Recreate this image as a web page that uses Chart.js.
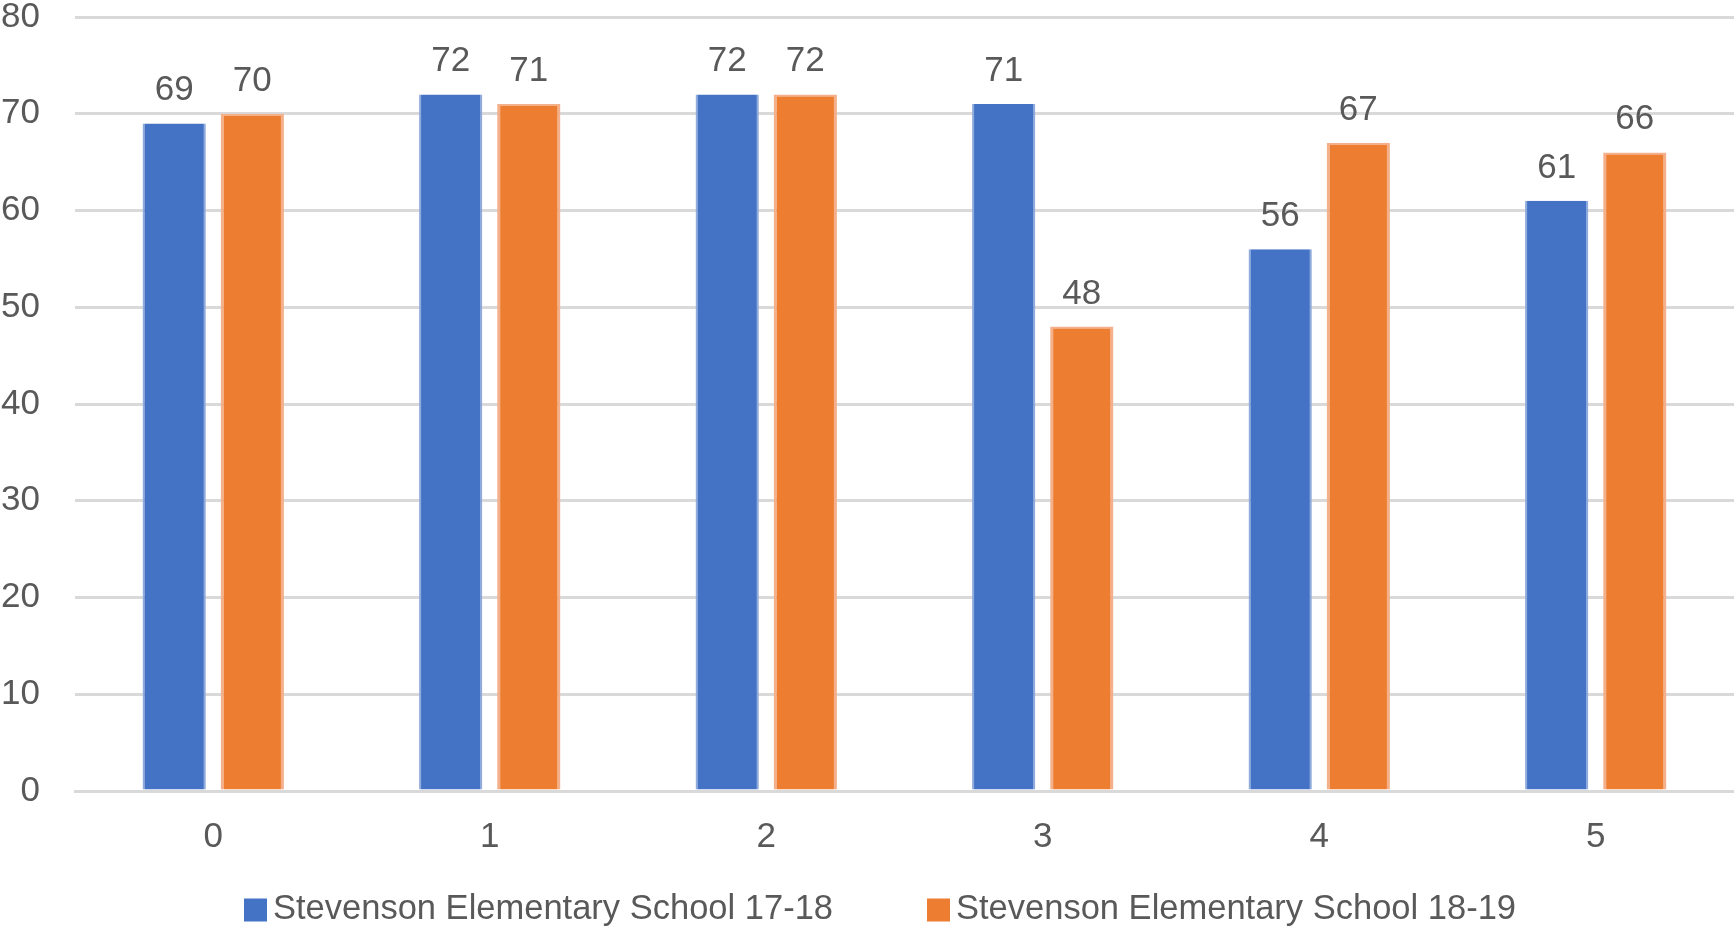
<!DOCTYPE html>
<html>
<head>
<meta charset="utf-8">
<script src="https://cdn.jsdelivr.net/npm/chart.js"></script>
<style>
  *{margin:0;padding:0;box-sizing:border-box}
  html,body{width:1734px;height:926px;background:#fff;overflow:hidden}
  canvas{display:block}
</style>
</head>
<body>
<canvas id="chart" width="1734" height="926"></canvas>
<script>
// data
const categories = ["0", "1", "2", "3", "4", "5"];
const seriesNames = ["Stevenson Elementary School 17-18", "Stevenson Elementary School 18-19"];
const school1718 = [69, 72, 72, 71, 56, 61];
const school1819 = [70, 71, 72, 48, 67, 66];
const yTicks = [0, 10, 20, 30, 40, 50, 60, 70, 80];

const FONT = "'Liberation Sans', Arial, sans-serif";
const FSIZE = 35;
const TEXT = "#595959";
const GRID = "#d9d9d9";

// values drawn above each bar
const valueLabels = {
  id: "valueLabels",
  afterDatasetsDraw(chart) {
    const ctx = chart.ctx;
    ctx.save();
    ctx.font = FSIZE + "px " + FONT;
    ctx.fillStyle = TEXT;
    ctx.textAlign = "center";
    ctx.textBaseline = "alphabetic";
    chart.data.datasets.forEach((ds, di) => {
      chart.getDatasetMeta(di).data.forEach((bar, i) => {
        ctx.fillText(String(ds.data[i]), bar.x, bar.y - 23);
      });
    });
    ctx.restore();
  }
};

// legend at the bottom, wide spacing like the original
const bottomLegend = {
  id: "bottomLegend",
  afterDraw(chart) {
    const ctx = chart.ctx;
    const box = 23, gapText = 6, gapItem = 94;
    ctx.save();
    ctx.font = "34.5px " + FONT;
    ctx.textBaseline = "middle";
    ctx.textAlign = "left";
    const items = chart.data.datasets.map(ds => ({ label: ds.label, color: ds.backgroundColor, w: ctx.measureText(ds.label).width }));
    const total = items.reduce((s, it) => s + box + gapText + it.w, 0) + gapItem * (items.length - 1);
    let x = chart.width / 2 + 13 - total / 2;
    const y = chart.height - 17;
    items.forEach(it => {
      ctx.fillStyle = it.color;
      ctx.fillRect(x, y - box / 2 + 1, box, box);
      ctx.fillStyle = TEXT;
      ctx.fillText(it.label, x + box + gapText, y);
      x += box + gapText + it.w + gapItem;
    });
    ctx.restore();
  }
};

new Chart(document.getElementById("chart"), {
  type: "bar",
  data: {
    labels: categories,
    datasets: [
      { label: seriesNames[0], data: school1718, backgroundColor: "#4472C4", borderColor: "#8fabdc", borderWidth: { top: 0, left: 2, right: 2, bottom: 0 }, borderSkipped: false },
      { label: seriesNames[1], data: school1819, backgroundColor: "#ED7D31", borderColor: "#f4b08a", borderWidth: { top: 2, left: 3, right: 3, bottom: 0 }, borderSkipped: false }
    ]
  },
  options: {
    responsive: false,
    animation: false,
    devicePixelRatio: 1,
    categoryPercentage: 0.565,
    barPercentage: 0.81,
    layout: { padding: { top: 0, right: 0, bottom: 43, left: 0 } },
    plugins: { legend: { display: false }, tooltip: { enabled: false } },
    scales: {
      x: {
        grid: { display: false, drawTicks: false },
        border: { display: true, color: GRID, width: 3 },
        ticks: { color: TEXT, font: { family: FONT, size: FSIZE }, padding: 25 }
      },
      y: {
        min: 0,
        max: 80,
        afterBuildTicks(scale) { scale.ticks = yTicks.map(v => ({ value: v })); },
        afterFit(scale) { scale.width = 75; scale.paddingTop = 17; scale.paddingBottom = 0; },
        grid: { color: GRID, lineWidth: 3, drawTicks: false },
        border: { display: false },
        ticks: { color: TEXT, font: { family: FONT, size: FSIZE }, padding: 35 }
      }
    }
  },
  plugins: [valueLabels, bottomLegend]
});
</script>
</body>
</html>
